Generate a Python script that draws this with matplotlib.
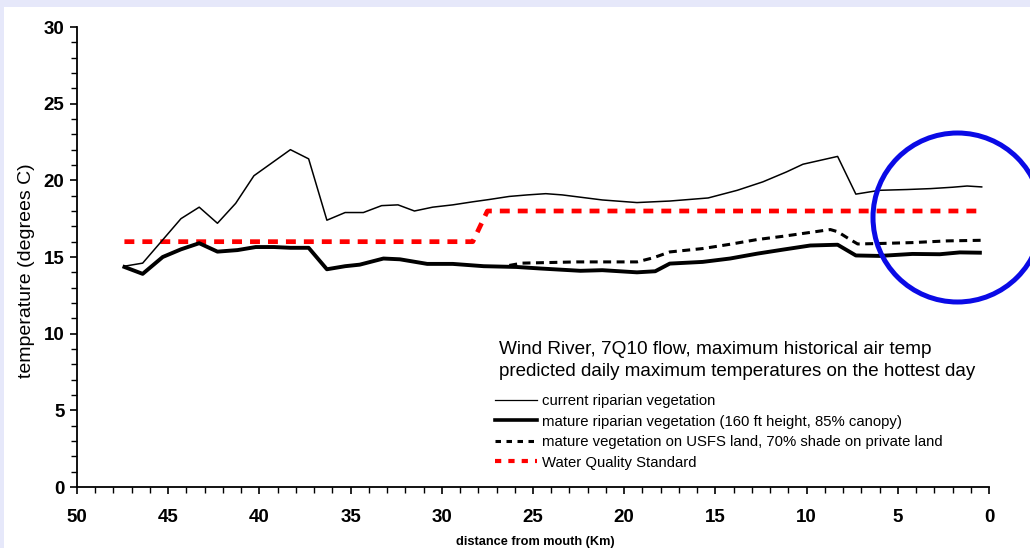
import matplotlib
matplotlib.use("Agg")
import matplotlib.pyplot as plt
from matplotlib.lines import Line2D
from matplotlib.patches import Ellipse, Rectangle
from matplotlib.ticker import MultipleLocator

plt.rcParams['font.family'] = ['Liberation Sans', 'DejaVu Sans']

# distance from mouth (km) and predicted max temperature (deg C)
km_current = [47.4, 46.4, 44.3, 43.3, 42.3, 41.3, 40.3, 38.3, 37.3, 36.3, 35.3,
              34.3, 33.3, 32.4, 31.5, 30.5, 29.4, 28.3, 27.4, 26.3, 25.3, 24.3,
              23.4, 22.4, 21.2, 19.3, 17.5, 15.4, 13.8, 12.4, 11.1, 10.2, 8.3,
              7.3, 6.0, 4.5, 3.2, 2.0, 1.2, 0.4]
temp_current = [14.4, 14.6, 17.5, 18.25, 17.2, 18.5, 20.3, 22.0, 21.4, 17.4, 17.9,
                17.9, 18.35, 18.4, 18.0, 18.25, 18.4, 18.6, 18.75, 18.95, 19.05, 19.13,
                19.05, 18.9, 18.72, 18.55, 18.65, 18.85, 19.35, 19.9, 20.55, 21.05, 21.56,
                19.1, 19.35, 19.4, 19.46, 19.55, 19.63, 19.57]

km_mature = [47.4, 46.4, 45.3, 44.3, 43.3, 42.3, 41.2, 40.2, 39.2, 38.3, 37.3,
             36.3, 35.3, 34.5, 33.2, 32.3, 30.8, 29.4, 27.7, 25.9, 24.6, 22.4,
             21.2, 19.3, 18.3, 17.5, 15.7, 14.2, 12.7, 11.3, 9.8, 8.3, 7.3,
             6.0, 4.2, 2.7, 1.6, 0.5]
temp_mature = [14.35, 13.9, 15.0, 15.5, 15.9, 15.35, 15.45, 15.65, 15.65, 15.6, 15.6,
               14.2, 14.4, 14.5, 14.9, 14.85, 14.55, 14.55, 14.4, 14.35, 14.25, 14.1,
               14.14, 14.0, 14.07, 14.57, 14.68, 14.9, 15.22, 15.48, 15.75, 15.8, 15.1,
               15.07, 15.2, 15.18, 15.3, 15.28]

km_usfs = [26.3, 25.6, 22.6, 19.3, 18.4, 17.5, 15.7, 14.2, 12.7, 11.3, 9.7, 8.7,
           8.3, 7.7, 7.2, 6.0, 4.2, 2.3, 0.4]
temp_usfs = [14.45, 14.6, 14.68, 14.68, 14.95, 15.33, 15.55, 15.83, 16.14, 16.35,
             16.62, 16.79, 16.65, 16.2, 15.85, 15.88, 15.94, 16.05, 16.09]

km_standard = [47.4, 28.3, 27.5, 0.5]
temp_standard = [16, 16, 18, 18]

labels = ["current riparian vegetation",
          "mature riparian vegetation (160 ft height, 85% canopy)",
          "mature vegetation on USFS land, 70% shade on private land",
          "Water Quality Standard"]
title_lines = ["Wind River, 7Q10 flow, maximum historical air temp",
               "predicted daily maximum temperatures on the hottest day"]

W, H = 1030, 548
fig = plt.figure(figsize=(W / 100, H / 100), dpi=100)
fig.patch.set_facecolor('#e6e8fa')
fig.add_artist(Rectangle((4 / W, 0), 1, 1 - 7 / H, transform=fig.transFigure,
                         facecolor='white', edgecolor='none', zorder=0))

ax = fig.add_axes([77 / W, 1 - 487 / H, (989 - 77) / W, (487 - 27) / H])
ax.set_facecolor('none')

ax.plot(km_standard, temp_standard, color='#ff0000', lw=3.4,
        dashes=(2.1, 1.7), solid_capstyle='butt', dash_capstyle='butt', zorder=2)
ax.plot(km_usfs, temp_usfs, color='black', lw=2.2, dashes=(2.6, 1.8), zorder=3)
ax.plot(km_mature, temp_mature, color='black', lw=2.8, zorder=4)
ax.plot(km_current, temp_current, color='black', lw=1.1, zorder=5)

ax.set_xlim(50, 0)
ax.set_ylim(0, 30)
ax.xaxis.set_major_locator(MultipleLocator(5))
ax.xaxis.set_minor_locator(MultipleLocator(1))
ax.yaxis.set_major_locator(MultipleLocator(5))
ax.yaxis.set_minor_locator(MultipleLocator(1))
for s in ['top', 'right']:
    ax.spines[s].set_visible(False)
for s in ['left', 'bottom']:
    ax.spines[s].set_linewidth(1.3)
ax.tick_params(which='major', direction='out', length=5, width=1.2, labelsize=13.5, pad=4)
ax.tick_params(which='minor', direction='out', length=4, width=1.0)
ax.tick_params(axis='x', which='major', pad=11)
for lab in ax.get_xticklabels() + ax.get_yticklabels():
    lab.set_fontweight('bold')

ax.set_ylabel("temperature (degrees C)", fontsize=14)
ax.yaxis.set_label_coords(-0.046, 0.47)
ax.set_xlabel("distance from mouth (Km)", fontsize=9.2, fontweight='bold')
ax.xaxis.set_label_coords(0.502, -0.107)

fig.text(499 / W, 1 - 350 / H, title_lines[0], fontsize=13.7, va='center', ha='left')
fig.text(499 / W, 1 - 371.5 / H, title_lines[1], fontsize=13.5, va='center', ha='left')

handles = [Line2D([], [], color='black', lw=0.9),
           Line2D([], [], color='black', lw=2.6),
           Line2D([], [], color='black', lw=2.2, dashes=(1.8, 1.8)),
           Line2D([], [], color='#ff0000', lw=3.0, dashes=(1.5, 1.7))]
fig.legend(handles, labels, loc='upper left', bbox_to_anchor=(495 / W, 1 - 394 / H),
           frameon=False, fontsize=10.7, handlelength=2.85, handletextpad=0.3,
           labelspacing=0.44, borderaxespad=0, borderpad=0)

fig.add_artist(Ellipse((957.5 / W, 1 - 217.5 / H), 169 / W, 169 / H,
                       transform=fig.transFigure, fill=False, edgecolor='#0a0ae6',
                       lw=3.6, zorder=10))

fig.savefig("out.png", dpi=100, facecolor=fig.get_facecolor())
